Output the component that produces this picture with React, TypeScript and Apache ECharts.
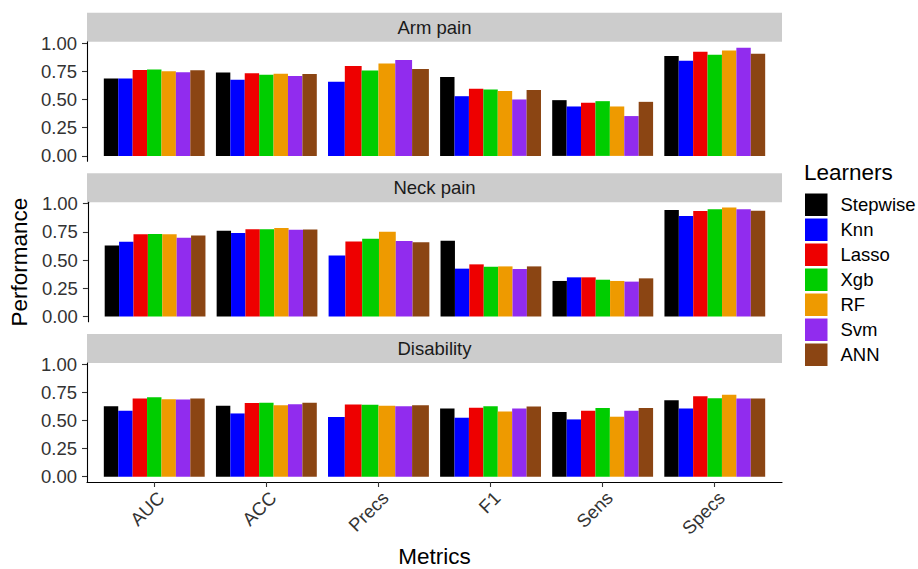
import React, { useEffect, useRef } from "react";
import * as echarts from "echarts";

const CATEGORIES = ["AUC", "ACC", "Precs", "F1", "Sens", "Specs"];
const LEARNERS = ["Stepwise", "Knn", "Lasso", "Xgb", "RF", "Svm", "ANN"];
const COLORS = ["#000000", "#0000FF", "#EE0000", "#00CD00", "#EE9A00", "#912CEE", "#8B4513"];
const PANELS = ["Arm pain", "Neck pain", "Disability"];
const Y_TICKS = [0, 0.25, 0.5, 0.75, 1];

// rows: learners (Stepwise..ANN), columns: metrics (AUC..Specs)
const ARM_PAIN: (number | null)[][] = [
  [0.685, 0.738, null, 0.7, 0.494, 0.885],
  [0.685, 0.674, 0.656, 0.529, 0.438, 0.844],
  [0.762, 0.732, 0.797, 0.594, 0.471, 0.924],
  [0.765, 0.72, 0.756, 0.588, 0.485, 0.897],
  [0.75, 0.729, 0.818, 0.574, 0.438, 0.935],
  [0.741, 0.709, 0.85, 0.5, 0.353, 0.959],
  [0.759, 0.726, 0.771, 0.585, 0.479, 0.906],
];
const NECK_PAIN: (number | null)[][] = [
  [0.629, 0.759, null, 0.671, 0.315, 0.944],
  [0.662, 0.741, 0.541, 0.424, 0.347, 0.891],
  [0.729, 0.774, 0.665, 0.462, 0.347, 0.935],
  [0.732, 0.774, 0.688, 0.441, 0.326, 0.95],
  [0.729, 0.785, 0.75, 0.444, 0.315, 0.965],
  [0.697, 0.768, 0.668, 0.421, 0.309, 0.95],
  [0.718, 0.771, 0.659, 0.444, 0.338, 0.938],
];
const DISABILITY: (number | null)[][] = [
  [0.628, 0.631, null, 0.608, 0.575, 0.681],
  [0.587, 0.563, 0.531, 0.525, 0.51, 0.608],
  [0.696, 0.655, 0.643, 0.614, 0.587, 0.717],
  [0.708, 0.658, 0.64, 0.628, 0.611, 0.699],
  [0.69, 0.637, 0.631, 0.581, 0.534, 0.729],
  [0.687, 0.646, 0.628, 0.608, 0.587, 0.696],
  [0.696, 0.658, 0.637, 0.625, 0.611, 0.696],
];
const PANEL_DATA = [ARM_PAIN, NECK_PAIN, DISABILITY];

const FONT = "'Liberation Sans', Arial, sans-serif";
const DODGE = 0.9;
const GRID_LEFT = 87;
const GRID_WIDTH = 695;
const GRID_TOPS = [41.7, 202.3, 363];
const GRID_HEIGHT = 119.5;
const STRIP_H = 29;

export default function App() {
  const ref = useRef<HTMLDivElement>(null);
  useEffect(() => {
    if (!ref.current) return;
    const chart = echarts.init(ref.current, undefined, { renderer: "svg" });

    const grids = GRID_TOPS.map((top) => ({
      left: GRID_LEFT,
      top,
      width: GRID_WIDTH,
      height: GRID_HEIGHT,
      containLabel: false,
    }));

    const xAxes = PANELS.map((_, p) => ({
      type: "value",
      gridIndex: p,
      min: 0.4,
      max: 6.6,
      show: p === 2,
      splitLine: { show: false },
      axisLine: { show: true, onZero: false, lineStyle: { color: "#000", width: 1.1 } },
      axisTick: {
        show: true,
        customValues: [1, 2, 3, 4, 5, 6],
        length: 5,
        lineStyle: { color: "#333", width: 1.1 },
      },
      axisLabel: {
        customValues: [1, 2, 3, 4, 5, 6],
        formatter: (v: number) => CATEGORIES[Math.round(v) - 1] ?? "",
        rotate: 45,
        margin: 6,
        verticalAlign: "top",
        fontSize: 18.5,
        fontFamily: FONT,
        color: "#333",
      },
      name: p === 2 ? "Metrics" : "",
      nameLocation: "middle",
      nameGap: 63,
      nameTextStyle: { fontSize: 22.5, fontFamily: FONT, color: "#000" },
    }));

    const yAxes = PANELS.map((_, p) => ({
      type: "value",
      gridIndex: p,
      min: -0.047,
      max: 1.012,
      splitLine: { show: false },
      axisLine: { show: true, onZero: false, lineStyle: { color: "#000", width: 1.1 } },
      axisTick: {
        show: true,
        customValues: Y_TICKS,
        length: 5,
        lineStyle: { color: "#333", width: 1.1 },
      },
      axisLabel: {
        customValues: Y_TICKS,
        formatter: (v: number) => v.toFixed(2),
        margin: 10,
        fontSize: 18.5,
        fontFamily: FONT,
        color: "#333",
      },
      name: p === 1 ? "Performance" : "",
      nameLocation: "middle",
      nameGap: 52,
      nameTextStyle: { fontSize: 22.5, fontFamily: FONT, color: "#000" },
    }));

    const series: any[] = [];
    PANEL_DATA.forEach((panel, p) => {
      LEARNERS.forEach((learner, l) => {
        const data: number[][] = [];
        CATEGORIES.forEach((_, c) => {
          const v = panel[l][c];
          if (v === null) return;
          const present = panel.map((row) => row[c]).map((x, i) => (x === null ? -1 : i)).filter((i) => i >= 0);
          data.push([c + 1, v, present.length, present.indexOf(l)]);
        });
        series.push({
          type: "custom",
          name: learner,
          xAxisIndex: p,
          yAxisIndex: p,
          itemStyle: { color: COLORS[l] },
          encode: { x: 0, y: 1 },
          clip: false,
          renderItem: (params: any, api: any) => {
            const cat = api.value(0);
            const val = api.value(1);
            const n = api.value(2);
            const pos = api.value(3);
            const w = DODGE / n;
            const left = cat - DODGE / 2 + pos * w;
            const p1 = api.coord([left, val]);
            const p2 = api.coord([left + w, 0]);
            return {
              type: "rect",
              shape: { x: p1[0], y: p1[1], width: p2[0] - p1[0], height: p2[1] - p1[1] },
              style: { fill: COLORS[l] },
            };
          },
          data,
        });
      });
    });

    const graphics: any[] = [];
    GRID_TOPS.forEach((top, p) => {
      graphics.push({
        type: "rect",
        shape: { x: GRID_LEFT, y: top - STRIP_H, width: GRID_WIDTH, height: STRIP_H },
        style: { fill: "#CCCCCC" },
        silent: true,
      });
      graphics.push({
        type: "text",
        x: GRID_LEFT + GRID_WIDTH / 2,
        y: top - STRIP_H / 2,
        style: {
          text: PANELS[p],
          fontSize: 18.5,
          fontFamily: FONT,
          fill: "#1A1A1A",
          align: "center",
          verticalAlign: "middle",
        },
      });
    });
    graphics.push({
      type: "text",
      x: 804,
      y: 172,
      style: {
        text: "Learners",
        fontSize: 22.5,
        fontFamily: FONT,
        fill: "#000",
        align: "left",
        verticalAlign: "middle",
      },
    });

    chart.setOption({
      animation: false,
      color: COLORS,
      grid: grids,
      xAxis: xAxes,
      yAxis: yAxes,
      series,
      graphic: graphics,
      legend: {
        data: LEARNERS.map((name) => ({ name, icon: "rect" })),
        orient: "vertical",
        left: 805,
        top: 193.5,
        padding: 0,
        itemWidth: 22.5,
        itemHeight: 22.5,
        itemGap: 2.5,
        selectedMode: false,
        textStyle: { fontSize: 18.5, fontFamily: FONT, color: "#000", padding: [0, 0, 0, 8] },
      },
    });
    return () => chart.dispose();
  }, []);

  return (
    <div
      ref={ref}
      style={{ position: "fixed", left: 0, top: 0, width: 918, height: 569, background: "#fff" }}
    />
  );
}
